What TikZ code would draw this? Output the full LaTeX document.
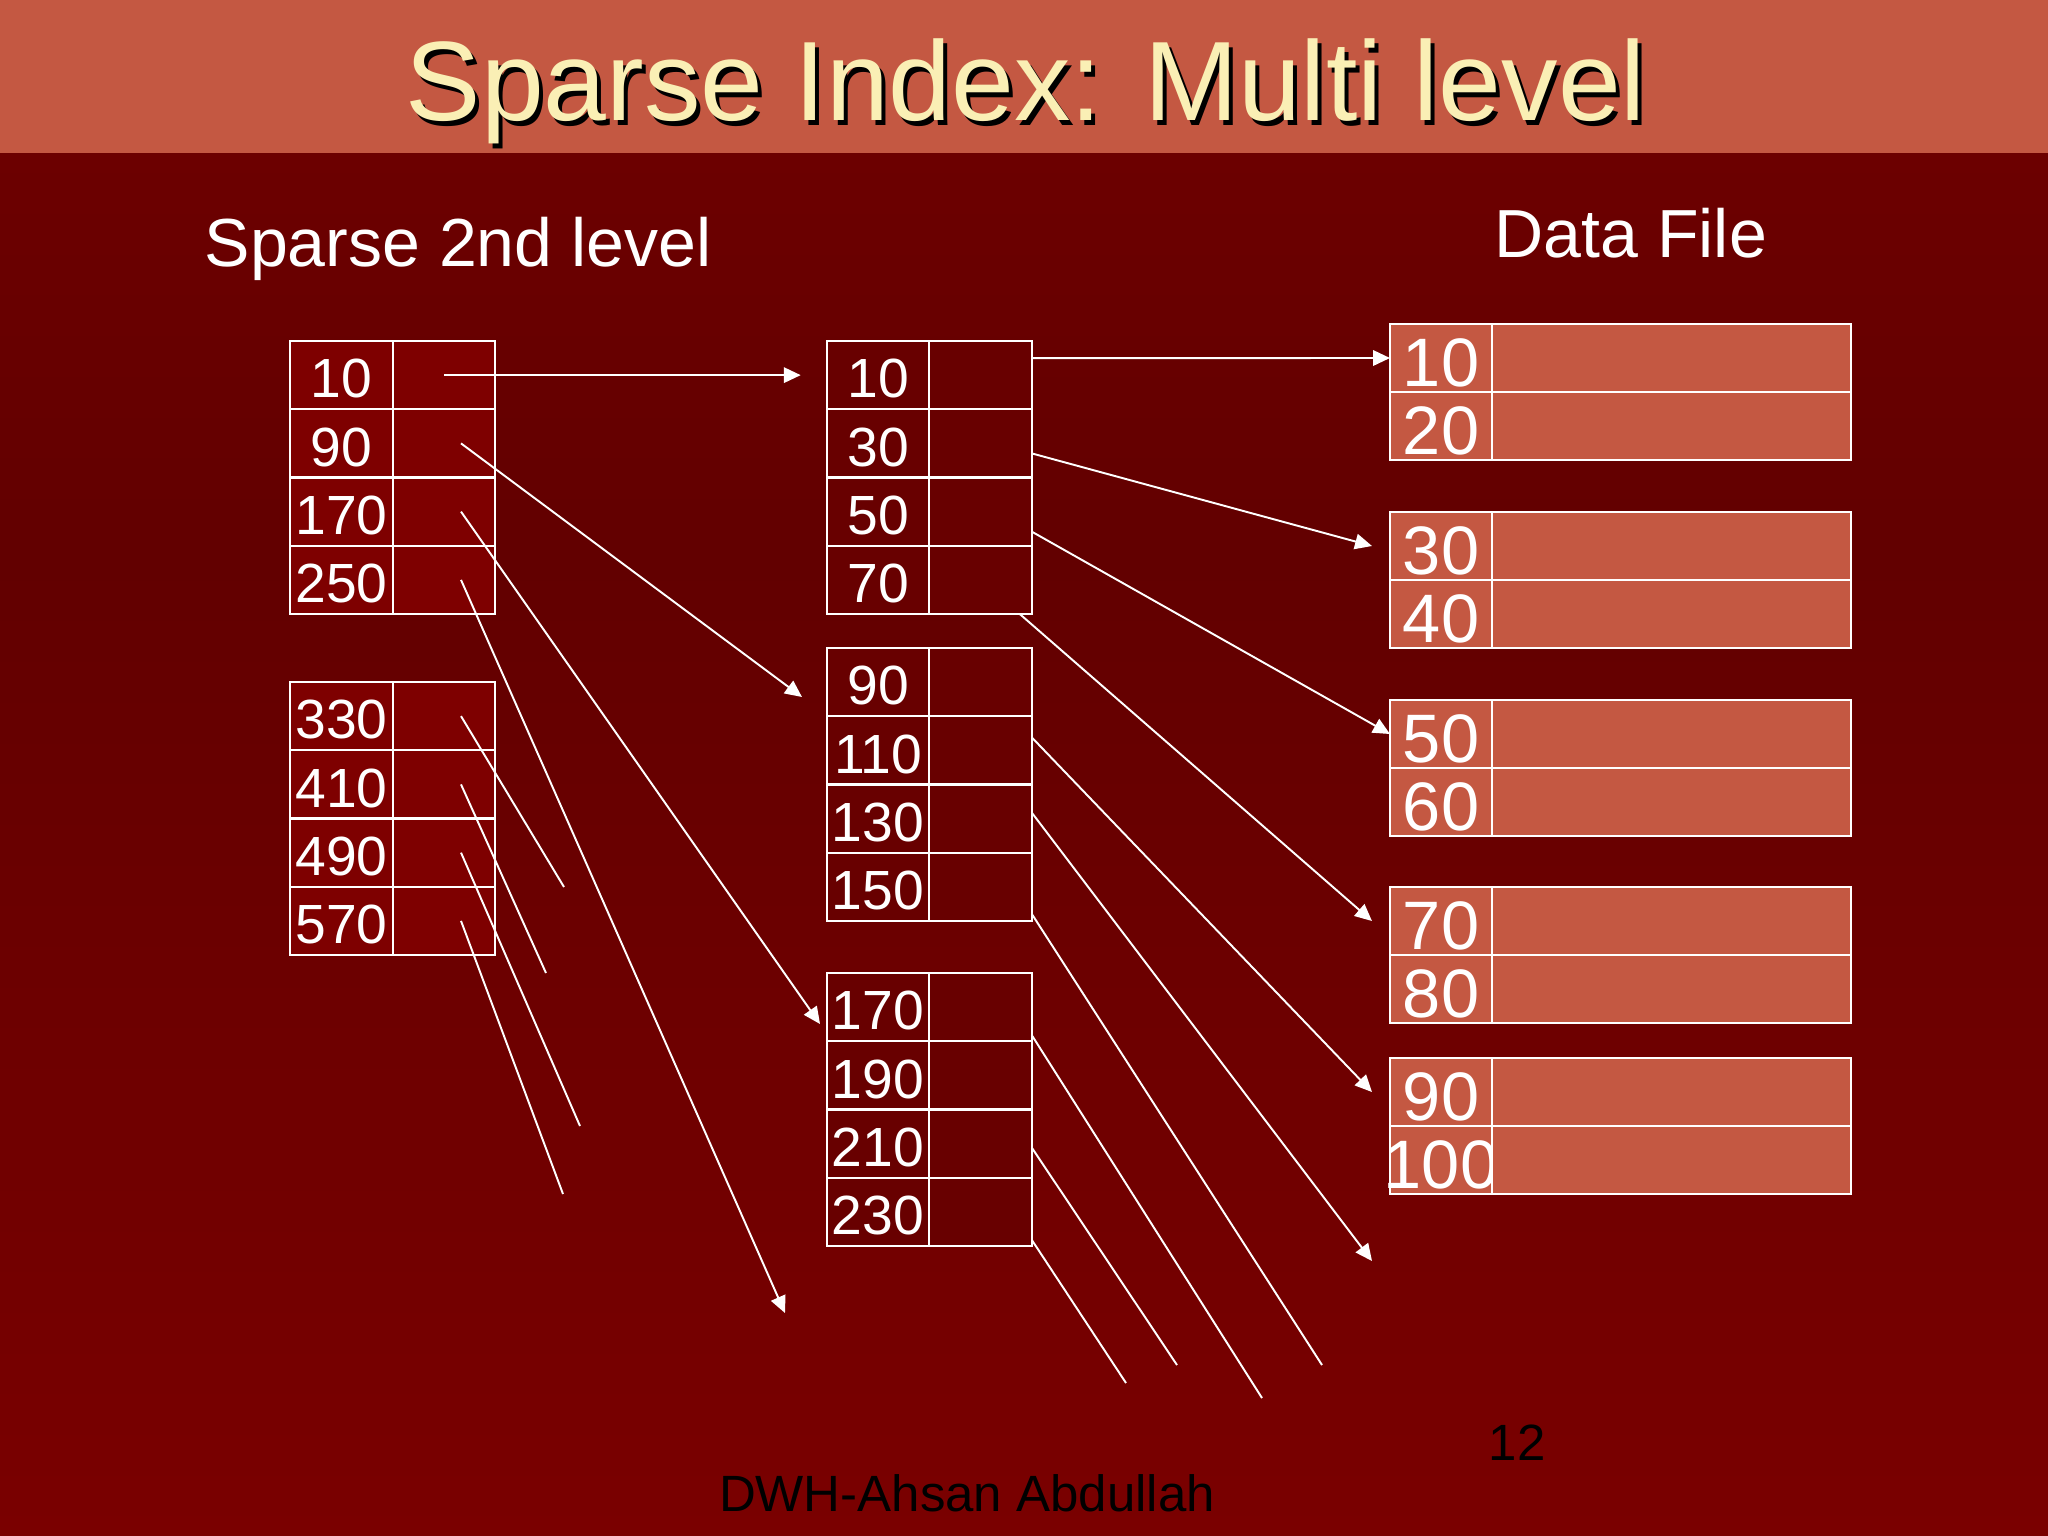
\documentclass[tikz,border=0pt]{standalone}
\usepackage{fontspec}
\setmainfont{Liberation Sans}
\usetikzlibrary{arrows.meta,calc}
\definecolor{band}{HTML}{C45842}
\definecolor{titletext}{HTML}{FAEFB5}
\definecolor{bgtop}{HTML}{6C0000}
\definecolor{bgmid}{HTML}{620000}
\definecolor{bgbot}{HTML}{7A0000}
\definecolor{lfill}{HTML}{7E0000}
\definecolor{mfill}{HTML}{680000}
\definecolor{dfill}{HTML}{C45842}
\begin{document}
\begin{tikzpicture}[x=0.01cm,y=-0.01cm,
  cell/.style={draw=white, line width=0.65pt, inner sep=0pt, outer sep=0pt, minimum height=0.6825cm, text=white},
  idxkey/.style={cell, minimum width=1.025cm, font=\fontsize{15.7}{15.7}\selectfont, text height=12.9pt, text depth=0pt},
  idxptr/.style={cell, minimum width=1.025cm},
  datakey/.style={cell, fill=dfill, minimum width=1.02cm, minimum height=0.68cm, font=\fontsize{19.5}{19.5}\selectfont, text height=16pt, text depth=0pt},
  datarec/.style={cell, fill=dfill, minimum width=3.59cm, minimum height=0.68cm},
  link/.style={draw=white, line width=0.55pt},
  arr/.style={link, -{Triangle[length=4.8pt,width=4.4pt]}},
  heading/.style={text=white, font=\fontsize{19.35}{19.35}\selectfont, inner sep=0pt},
  footer/.style={text=black, font=\fontsize{14.5}{14.5}\selectfont, inner sep=0pt}
]
\useasboundingbox (0,0) rectangle (2048,1536);
% background
\shade[top color=bgtop, bottom color=bgmid] (0,152) rectangle (2048,560);
\shade[top color=bgmid, bottom color=bgbot] (0,560) rectangle (2048,1536);
\fill[band] (0,0) rectangle (2048,153);

% title with shadow
\node[anchor=base, inner sep=0pt, text=black, font=\fontsize{32.1}{32.1}\selectfont] (titleshadow) at (1030,125) {Sparse Index: Multi level};
\node[anchor=base, inner sep=0pt, text=titletext, font=\fontsize{32.1}{32.1}\selectfont] (title) at (1026,120) {Sparse Index: Multi level};

\node[heading, anchor=base west] (h2nd) at (204,266) {Sparse 2nd level};
\node[heading, anchor=base west] (hdata) at (1494,257) {Data File};

% sparse 2nd level tables
\foreach \v [count=\i] in {10,90,170,250} {
  \node[idxkey, fill=lfill] (La\i) at (341.5,{341+68.25*(\i-0.5)}) {\makebox[0pt]{\v}};
  \node[idxptr, fill=lfill] (Lap\i) at (444,{341+68.25*(\i-0.5)}) {};
}
\foreach \v [count=\i] in {330,410,490,570} {
  \node[idxkey, fill=lfill] (Lb\i) at (341.5,{682+68.25*(\i-0.5)}) {\makebox[0pt]{\v}};
  \node[idxptr, fill=lfill] (Lbp\i) at (444,{682+68.25*(\i-0.5)}) {};
}
% first level tables
\foreach \v [count=\i] in {10,30,50,70} {
  \node[idxkey, fill=mfill] (Ma\i) at (878,{341+68.25*(\i-0.5)}) {\makebox[0pt]{\v}};
  \node[idxptr, fill=mfill] (Map\i) at (980.5,{341+68.25*(\i-0.5)}) {};
}
\foreach \v [count=\i] in {90,110,130,150} {
  \node[idxkey, fill=mfill] (Mb\i) at (878,{648+68.25*(\i-0.5)}) {\makebox[0pt]{\v}};
  \node[idxptr, fill=mfill] (Mbp\i) at (980.5,{648+68.25*(\i-0.5)}) {};
}
\foreach \v [count=\i] in {170,190,210,230} {
  \node[idxkey, fill=mfill] (Mc\i) at (878,{973+68.25*(\i-0.5)}) {\makebox[0pt]{\v}};
  \node[idxptr, fill=mfill] (Mcp\i) at (980.5,{973+68.25*(\i-0.5)}) {};
}
% data file
\foreach \v/\w/\tp [count=\i] in {10/20/324,30/40/512,50/60/700,70/80/887,90/100/1058} {
  \node[datakey] (Dk\i a) at (1441,{\tp+34}) {\makebox[0pt]{\v}};
  \node[datarec] (Dr\i a) at (1671.5,{\tp+34}) {};
  \node[datakey] (Dk\i b) at (1441,{\tp+102}) {\makebox[0pt]{\w}};
  \node[datarec] (Dr\i b) at (1671.5,{\tp+102}) {};
}

% free ends
\coordinate (e90) at (802,697);
\coordinate (e170) at (820,1024);
\coordinate (e250) at (785,1313);
\coordinate (e330) at (564,887);
\coordinate (e410) at (546,973);
\coordinate (e490) at (580,1126);
\coordinate (e570) at (563,1194);
\coordinate (e130) at (1372,1261);
\coordinate (e150) at (1322,1365);
\coordinate (ec170) at (1262,1398);
\coordinate (ec210) at (1177,1365);
\coordinate (ec230) at (1126,1383);

% connectors from the 2nd level
\draw[arr] (Lap1.center) -- ([xshift=-0.26cm]Ma1.west);
\draw[arr] ([xshift=0.17cm]Lap2.center) -- (e90);
\draw[arr] ([xshift=0.17cm]Lap3.center) -- (e170);
\draw[arr] ([xshift=0.17cm]Lap4.center) -- (e250);
\draw[link] ([xshift=0.17cm]Lbp1.center) -- (e330);
\draw[link] ([xshift=0.17cm]Lbp2.center) -- (e410);
\draw[link] ([xshift=0.17cm]Lbp3.center) -- (e490);
\draw[link] ([xshift=0.17cm]Lbp4.center) -- (e570);

% connectors from the 1st level
\draw[arr] ([yshift=0.17cm]Map1.east) -- (Dk1a.west);
\draw[arr] ([yshift=-0.10cm]Map2.east) -- ([xshift=-0.18cm]Dk2a.west);
\draw[arr] ([yshift=-0.20cm]Map3.east) -- (Dk3a.west);
\draw[arr] ([xshift=-0.12cm]Map4.south east) -- ([xshift=-0.18cm]Dk4a.west);
\draw[arr] ([yshift=0.13cm]Mbp2.east) -- ([xshift=-0.18cm]Dk5a.west);
\draw[arr] ([yshift=0.06cm]Mbp3.east) -- (e130);
\draw[link] ([yshift=-0.27cm]Mbp4.east) -- (e150);
\draw[link] ([yshift=-0.28cm]Mcp1.east) -- (ec170);
\draw[link] ([yshift=-0.04cm]Mcp3.east) -- (ec210);
\draw[link] ([yshift=-0.28cm]Mcp4.east) -- (ec230);

% footer
\node[footer, anchor=base] (pagenum) at (1517,1460) {12};
\node[footer, anchor=base] (author) at (967,1511) {DWH-Ahsan Abdullah};
\end{tikzpicture}
\end{document}
